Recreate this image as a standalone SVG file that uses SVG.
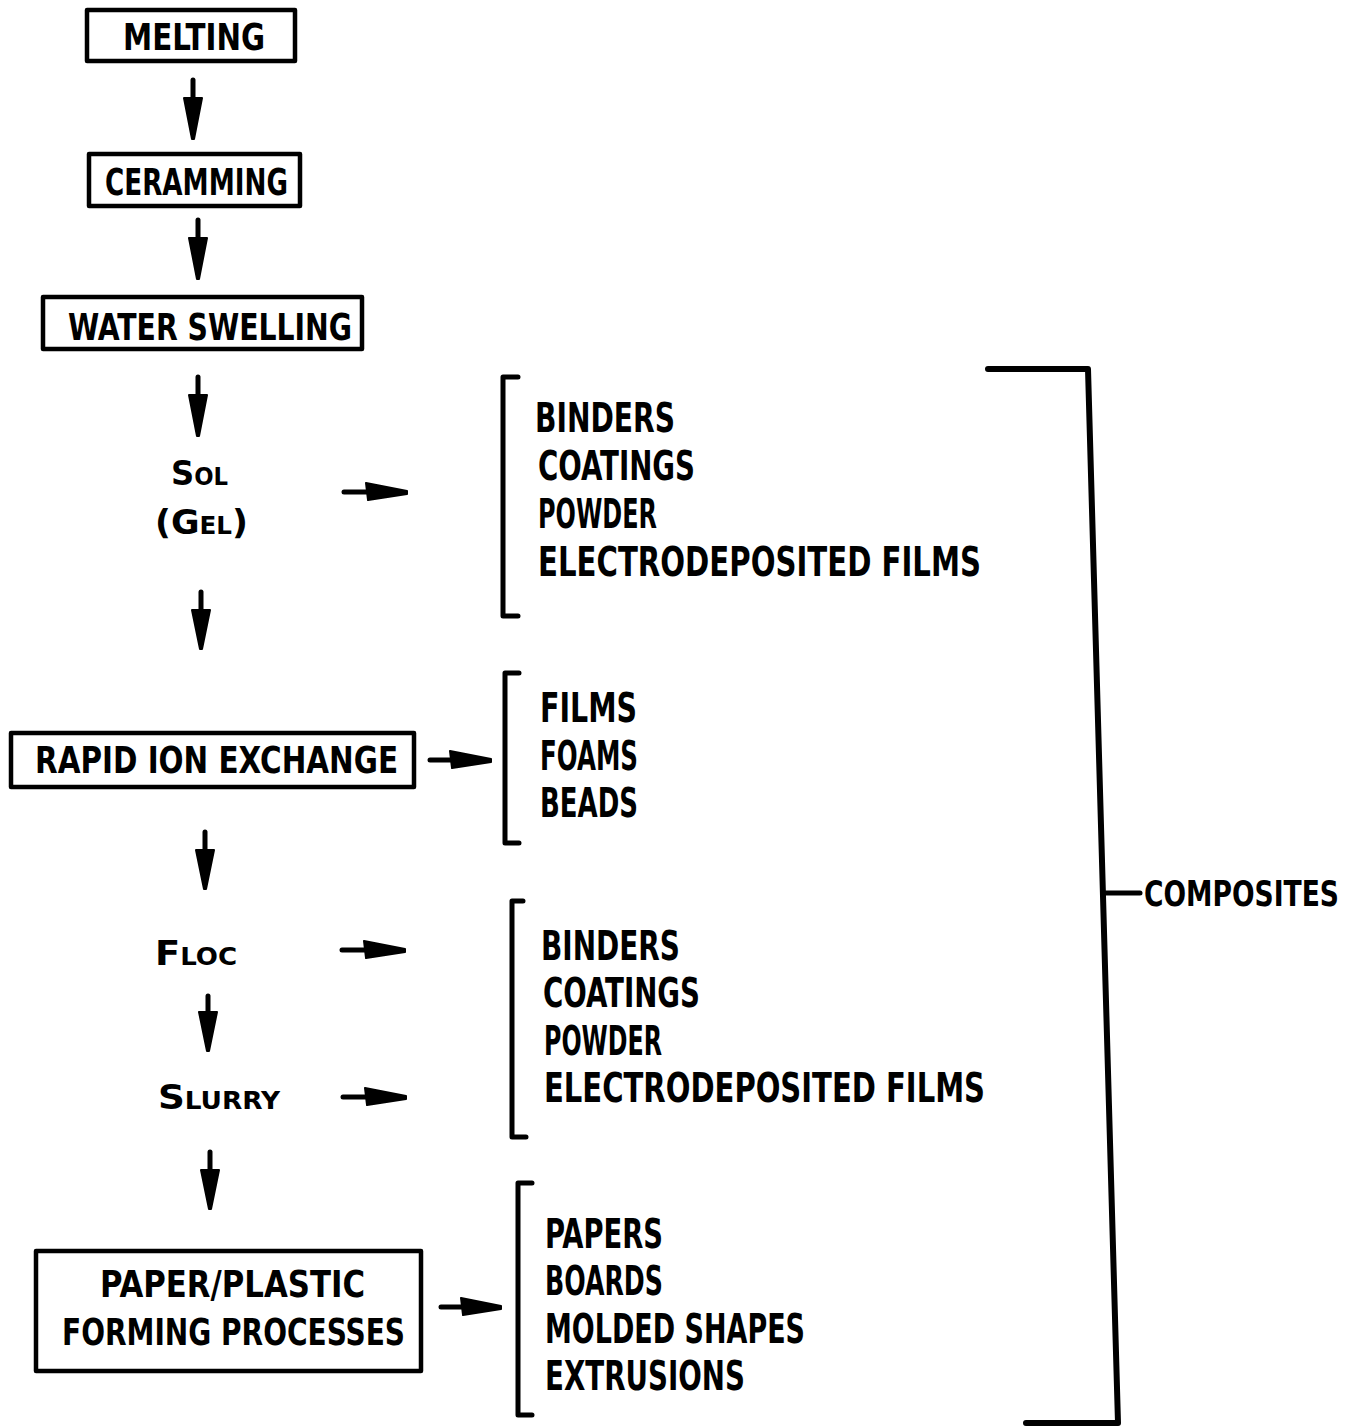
<svg xmlns="http://www.w3.org/2000/svg" width="1350" height="1427" viewBox="0 0 1350 1427">
<style>
text{font-family:"DejaVu Sans Condensed","DejaVu Sans","Liberation Sans",sans-serif;font-weight:bold;fill:#000}
.b{font-size:37px}
.r{font-size:40px}
.c{font-size:29px}
.sc{font-size:34px;font-variant:small-caps}
.box{fill:none;stroke:#000;stroke-width:4.5;stroke-linejoin:round}
.ln{fill:none;stroke:#000;stroke-width:5;stroke-linecap:round;stroke-linejoin:round}
.big{fill:none;stroke:#000;stroke-width:6;stroke-linecap:round;stroke-linejoin:round}
.ah{fill:#000;stroke:#000;stroke-width:2;stroke-linejoin:round}
</style>
<rect width="1350" height="1427" fill="#fff"/>
<g id="melting"><rect class="box" x="87" y="10" width="208" height="51"/><text class="b" x="123" y="50" textLength="142" lengthAdjust="spacingAndGlyphs">MELTING</text></g>
<g id="cramming"><rect class="box" x="89" y="154" width="211" height="52"/><text class="b" x="105" y="195" textLength="183" lengthAdjust="spacingAndGlyphs">CERAMMING</text></g>
<g id="water-swelling"><rect class="box" x="43" y="297" width="319" height="52"/><text class="b" x="68" y="340" textLength="284" lengthAdjust="spacingAndGlyphs">WATER SWELLING</text></g>
<g id="sol"><text class="sc" x="171" y="485" textLength="57" lengthAdjust="spacingAndGlyphs">Sol</text><text class="sc" x="155" y="534" textLength="93" lengthAdjust="spacingAndGlyphs">(Gel)</text></g>
<g id="list1"><path class="ln" d="M518,377 H503 V616 H518"/>
<text class="r" x="535" y="432" textLength="140" lengthAdjust="spacingAndGlyphs">BINDERS</text>
<text class="r" x="538" y="480" textLength="157" lengthAdjust="spacingAndGlyphs">COATINGS</text>
<text class="r" x="538" y="528" textLength="119" lengthAdjust="spacingAndGlyphs">POWDER</text>
<text class="r" x="538" y="576" textLength="443" lengthAdjust="spacingAndGlyphs">ELECTRODEPOSITED FILMS</text></g>
<g id="rapid-ion-exchange"><rect class="box" x="11" y="733" width="403" height="54"/><text class="b" x="35" y="773" textLength="363" lengthAdjust="spacingAndGlyphs">RAPID ION EXCHANGE</text></g>
<g id="list2"><path class="ln" d="M519,673 H505 V843 H519"/>
<text class="r" x="540" y="722" textLength="97" lengthAdjust="spacingAndGlyphs">FILMS</text>
<text class="r" x="540" y="770" textLength="98" lengthAdjust="spacingAndGlyphs">FOAMS</text>
<text class="r" x="540" y="817" textLength="98" lengthAdjust="spacingAndGlyphs">BEADS</text></g>
<g id="floc"><text class="sc" x="155" y="965" textLength="82" lengthAdjust="spacingAndGlyphs">Floc</text></g>
<g id="slurry"><text class="sc" x="158" y="1109" textLength="122" lengthAdjust="spacingAndGlyphs">Slurry</text></g>
<g id="list3"><path class="ln" d="M523,901 H512 V1137 H526"/>
<text class="r" x="541" y="960" textLength="139" lengthAdjust="spacingAndGlyphs">BINDERS</text>
<text class="r" x="543" y="1007" textLength="157" lengthAdjust="spacingAndGlyphs">COATINGS</text>
<text class="r" x="544" y="1055" textLength="118" lengthAdjust="spacingAndGlyphs">POWDER</text>
<text class="r" x="544" y="1102" textLength="441" lengthAdjust="spacingAndGlyphs">ELECTRODEPOSITED FILMS</text></g>
<g id="paper-plastic"><rect class="box" x="36" y="1251" width="385" height="120"/>
<text class="b" x="100" y="1297" textLength="265" lengthAdjust="spacingAndGlyphs">PAPER/PLASTIC</text>
<text class="b" x="62" y="1345" textLength="343" lengthAdjust="spacingAndGlyphs">FORMING PROCESSES</text></g>
<g id="list4"><path class="ln" d="M532,1183 H518 V1415 H532"/>
<text class="r" x="545" y="1248" textLength="118" lengthAdjust="spacingAndGlyphs">PAPERS</text>
<text class="r" x="545" y="1295" textLength="118" lengthAdjust="spacingAndGlyphs">BOARDS</text>
<text class="r" x="545" y="1343" textLength="260" lengthAdjust="spacingAndGlyphs">MOLDED SHAPES</text>
<text class="r" x="545" y="1390" textLength="200" lengthAdjust="spacingAndGlyphs">EXTRUSIONS</text></g>
<g id="composites"><path class="big" d="M988,369 H1088 L1118,1423 H1026"/><path class="ln" d="M1105,893 H1140"/>
<text class="c" transform="translate(1144,906) scale(1,1.25)" x="0" y="0" textLength="195" lengthAdjust="spacingAndGlyphs">COMPOSITES</text></g>
<g id="connectors">
<path class="ln" d="M193,80 V100"/><polygon class="ah" points="184,98 202,98 194,139 192,139"/>
<path class="ln" d="M198,220 V240"/><polygon class="ah" points="189,238 207,238 199,279 197,279"/>
<path class="ln" d="M198,377 V397"/><polygon class="ah" points="189,395 207,395 199,436 197,436"/>
<path class="ln" d="M201,592 V612"/><polygon class="ah" points="192,610 210,610 202,649 200,649"/>
<path class="ln" d="M205,832 V852"/><polygon class="ah" points="196,850 214,850 206,889 204,889"/>
<path class="ln" d="M208,996 V1014"/><polygon class="ah" points="199,1012 217,1012 209,1051 207,1051"/>
<path class="ln" d="M210,1152 V1172"/><polygon class="ah" points="201,1170 219,1170 211,1209 209,1209"/>
<path class="ln" d="M344,492 H368"/><polygon class="ah" points="366,483 407,491 407,494 368,500"/>
<path class="ln" d="M430,760 H452"/><polygon class="ah" points="450,751 491,759 491,762 452,768"/>
<path class="ln" d="M342,950 H366"/><polygon class="ah" points="364,941 405,949 405,952 366,958"/>
<path class="ln" d="M343,1097 H367"/><polygon class="ah" points="365,1088 406,1096 406,1099 367,1105"/>
<path class="ln" d="M441,1307 H463"/><polygon class="ah" points="461,1298 501,1306 501,1309 463,1315"/>
</g>
</svg>
